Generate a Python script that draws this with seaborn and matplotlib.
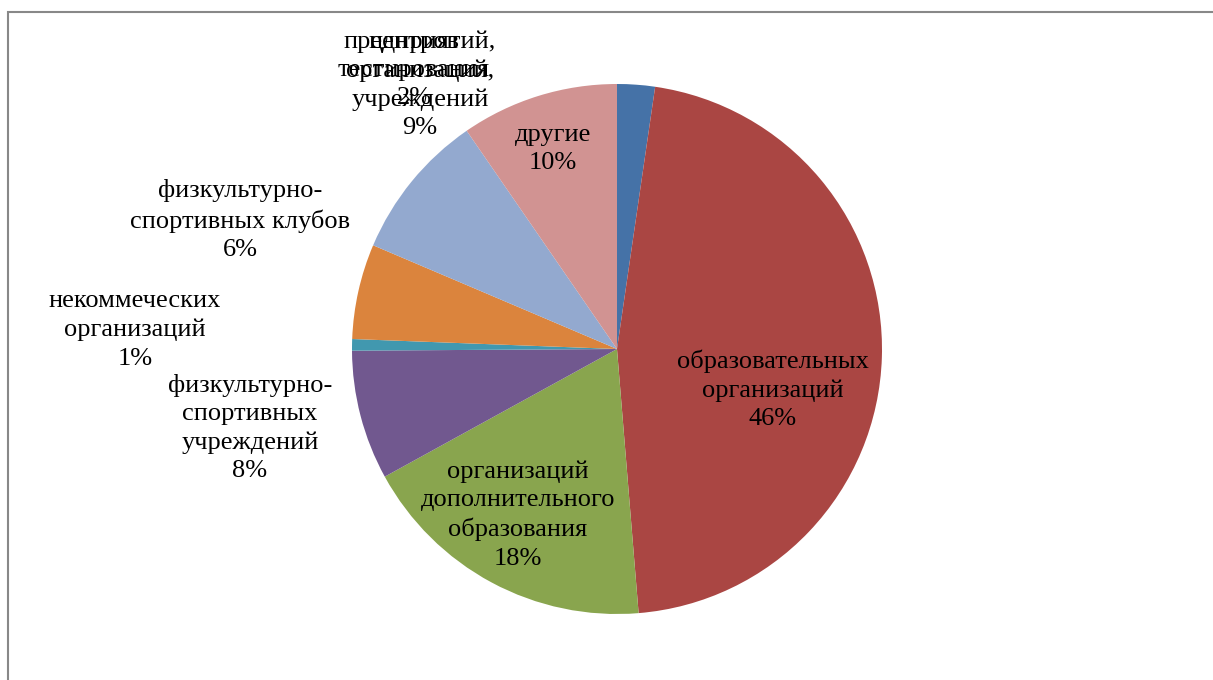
import matplotlib
matplotlib.use('Agg')
import matplotlib.pyplot as plt
import seaborn as sns
from matplotlib.patches import Rectangle

# slices, clockwise from 12 o'clock
labels = ['центров\nтестирования',
          'образовательных\nорганизаций',
          'организаций\nдополнительного\nобразования',
          'физкультурно-\nспортивных\nучреждений',
          'некоммеческих\nорганизаций',
          'физкультурно-\nспортивных клубов',
          'предприятий,\nорганизаций,\nучреждений',
          'другие']
shares = [2.3, 46.4, 18.3, 7.9, 0.7, 5.8, 9.0, 9.6]
pct_text = ['2%', '46%', '18%', '8%', '1%', '6%', '9%', '10%']
colors = ['#4572A7', '#AA4643', '#89A54E', '#71588F',
          '#4198AF', '#DB843D', '#93A9CF', '#D19392']

# label anchor points in pixel space (x from left, y from top)
label_xy = [(414, 70), (773, 390), (518, 515), (250, 428),
            (135, 330), (240, 220), (420, 85), (553, 149)]

W, H = 1213, 680
sns.set_theme(style='white')
plt.rcParams['font.family'] = ['Liberation Serif', 'DejaVu Serif']

fig = plt.figure(figsize=(W / 100, H / 100), dpi=100)
ax = fig.add_axes([0, 0, 1, 1])

# chart frame
ax.add_patch(Rectangle((8, -10), W + 20, H - 12 + 10, fill=False,
                       edgecolor='#888888', lw=1.5))

cx, cy, r = 617, H - 349, 265
ax.pie(shares, colors=sns.color_palette(colors), startangle=90, counterclock=False,
       center=(cx, cy), radius=r, frame=True,
       wedgeprops=dict(edgecolor='none'))
ax.set_xlim(0, W)
ax.set_ylim(0, H)
ax.set_aspect('equal')
ax.axis('off')

for lab, pct, (x, y) in zip(labels, pct_text, label_xy):
    ax.text(x, H - y, f'{lab}\n{pct}', ha='center', va='center',
            fontsize=19, color='black', linespacing=1.37)

fig.savefig('out.png', dpi=100)
